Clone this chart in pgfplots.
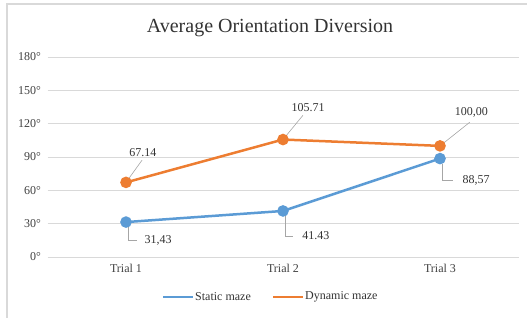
\documentclass[border=0pt]{standalone}
\usepackage{fontspec}
\setmainfont{Liberation Serif}
\usepackage{pgfplots}
\pgfplotsset{compat=1.18}
\definecolor{sblue}{HTML}{5B9BD5}
\definecolor{sorange}{HTML}{ED7D31}
\definecolor{gridc}{HTML}{D9D9D9}
\begin{document}
\begin{tikzpicture}[x=1pt,y=1pt]
\useasboundingbox (0,0) rectangle (527,320);
\draw[gridc, line width=1.2pt] (7,2) -- (7,316) -- (527,316);
\node[font=\fontsize{20}{24}\selectfont, text=black!80] at (270,292) {Average Orientation Diversion};
\begin{axis}[
  at={(47.5pt,63pt)}, anchor=south west,
  scale only axis, width=471pt, height=200pt,
  xmin=-0.5, xmax=2.5, ymin=0, ymax=180,
  axis line style={draw=none},
  xtick={0,1,2}, xticklabels={Trial 1,Trial 2,Trial 3},
  ytick={0,30,60,90,120,150,180},
  yticklabels={0°,30°,60°,90°,120°,150°,180°},
  ymajorgrids, grid style={gridc, line width=0.8pt},
  major tick length=0pt,
  tick label style={font=\fontsize{12}{14}\selectfont, text=black!75},
  xticklabel style={yshift=-4pt},
  yticklabel style={xshift=-3pt},
  clip=false,
  every axis plot/.append style={line width=2.5pt, mark=*, mark size=4.5pt},
]
\addplot[sblue, mark options={fill=sblue}] coordinates {(0,31.43) (1,41.43) (2,88.57)};
\addplot[sorange, mark options={fill=sorange}] coordinates {(0,67.14) (1,105.71) (2,100.00)};
\begin{scope}[every node/.style={font=\fontsize{12}{14}\selectfont, text=black!80}]
\draw[gray!70, line width=0.6pt] (axis cs:0.102,87.1) -- (axis cs:0,67.14);
\node at (axis cs:0.108,94.3) {67.14};
\draw[gray!70, line width=0.6pt] (axis cs:1.127,127.5) -- (axis cs:1,105.71);
\node at (axis cs:1.16,134.7) {105.71};
\draw[gray!70, line width=0.6pt] (axis cs:2.19,121.3) -- (axis cs:2,100);
\node at (axis cs:2.20,130.2) {100,00};
\draw[gray!70, line width=0.6pt] (axis cs:0.013,27) -- (axis cs:0.013,15.3) -- (axis cs:0.07,15.3);
\node at (axis cs:0.204,15.3) {31,43};
\draw[gray!70, line width=0.6pt] (axis cs:1.013,37.5) -- (axis cs:1.013,18.9) -- (axis cs:1.064,18.9);
\node at (axis cs:1.21,18.9) {41.43};
\draw[gray!70, line width=0.6pt] (axis cs:2.013,84) -- (axis cs:2.013,69.2) -- (axis cs:2.08,69.2);
\node at (axis cs:2.23,69.2) {88,57};
\end{scope}
\end{axis}
\draw[sblue, line width=2.5pt] (163,23) -- (193,23);
\node[anchor=west, inner sep=1pt, font=\fontsize{12}{14}\selectfont, text=black!80] at (194,23) {Static maze};
\draw[sorange, line width=2.5pt] (273,23) -- (303,23);
\node[anchor=west, inner sep=1pt, font=\fontsize{12}{14}\selectfont, text=black!80] at (304,23) {Dynamic maze};
\end{tikzpicture}
\end{document}
